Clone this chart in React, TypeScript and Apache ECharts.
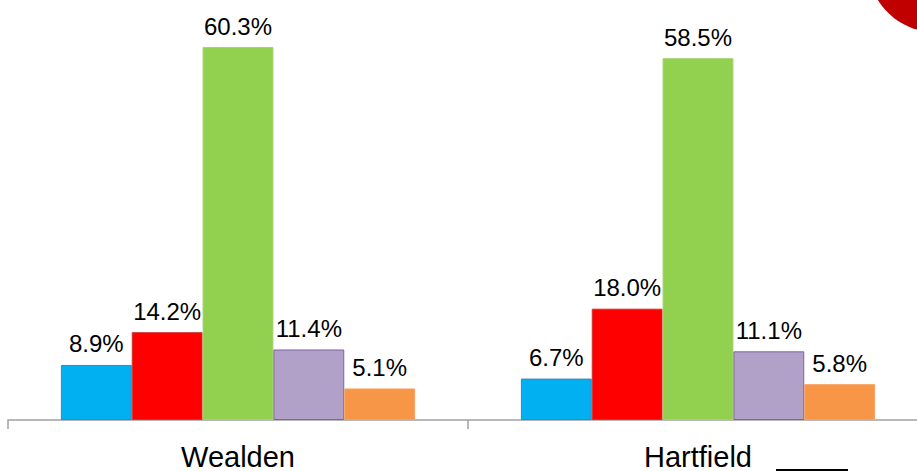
import React, { useEffect, useRef } from "react";
import * as echarts from "echarts";

const categories = ["Wealden", "Hartfield"];
const seriesA = [8.9, 6.7];
const seriesB = [14.2, 18.0];
const seriesC = [60.3, 58.5];
const seriesD = [11.4, 11.1];
const seriesE = [5.1, 5.8];

const colors = ["#00B0F0", "#FF0000", "#92D050", "#B1A0C7", "#F79646"];
const borders = ["#4A7EBB", "#D03030", "#A6CF6E", "#7E62A3", "#F7A060"];

export default function App() {
  const ref = useRef<HTMLDivElement>(null);
  useEffect(() => {
    if (!ref.current) return;
    const chart = echarts.init(ref.current, null, { renderer: "svg" });
    const data = [seriesA, seriesB, seriesC, seriesD, seriesE];
    chart.setOption({
      animation: false,
      grid: { left: 8, top: 18, width: 920, height: 402 },
      xAxis: {
        type: "category",
        data: categories,
        axisLine: { lineStyle: { color: "#A0A0A0", width: 1.5 } },
        axisTick: { show: true, length: 9, lineStyle: { color: "#A0A0A0", width: 1.5 } },
        axisLabel: {
          fontFamily: "Liberation Sans, Arial, sans-serif",
          fontSize: 29,
          color: "#000",
          margin: 22,
        },
      },
      yAxis: { type: "value", min: 0, max: 65, show: false, splitLine: { show: false } },
      series: data.map((d, i) => ({
        type: "bar",
        data: d,
        barGap: "0%",
        barCategoryGap: "23%",
        itemStyle: { color: colors[i], borderColor: borders[i], borderWidth: 1 },
        label: {
          show: true,
          position: "top",
          distance: 9,
          fontFamily: "Liberation Sans, Arial, sans-serif",
          fontSize: 24,
          color: "#000",
          formatter: (p: any) => Number(p.value).toFixed(1) + "%",
        },
      })),
      graphic: [
        { type: "circle", shape: { cx: 935, cy: -35, r: 67 }, style: { fill: "#C00000" } },
        { type: "line", shape: { x1: 776, y1: 470, x2: 848, y2: 470 }, style: { stroke: "#000", lineWidth: 2 } },
      ],
    });
    return () => chart.dispose();
  }, []);
  return (
    <div
      style={{ position: "fixed", left: 0, top: 0, width: 917, height: 471, overflow: "hidden", background: "#fff" }}
    >
      <div ref={ref} style={{ width: 940, height: 471 }} />
    </div>
  );
}
